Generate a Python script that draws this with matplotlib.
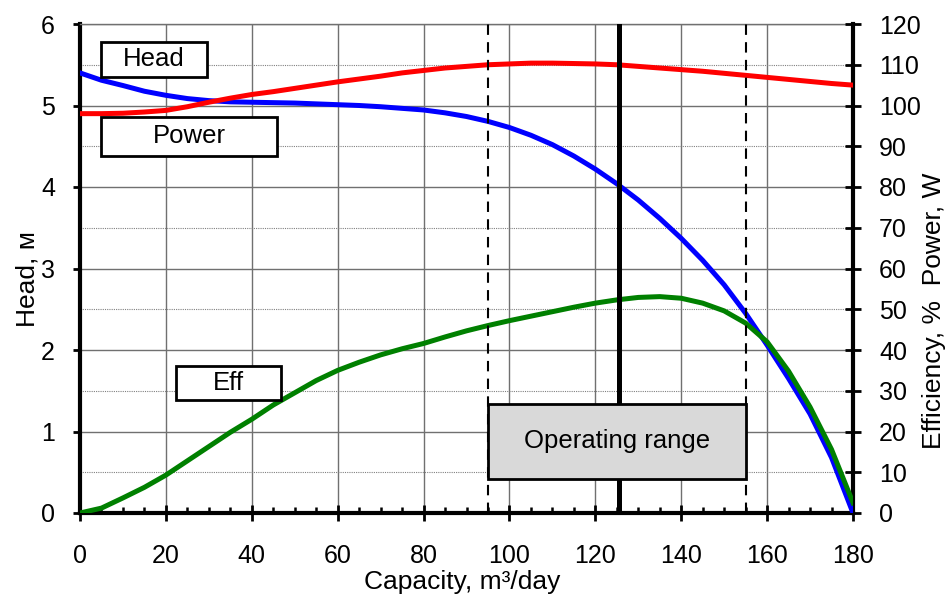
import numpy as np
import matplotlib
matplotlib.use("Agg")
import matplotlib.pyplot as plt
from matplotlib.patches import Rectangle

plt.rcParams['font.family'] = ['Liberation Sans', 'DejaVu Sans']

# capacity, m3/day (read every 5 units)
q = list(range(0, 181, 5))

# head, m (left axis)
head = [4.90, 4.90, 4.905, 4.92, 4.94, 4.985, 5.04, 5.09, 5.135, 5.17, 5.21, 5.25, 5.29,
        5.325, 5.36, 5.40, 5.43, 5.46, 5.48, 5.50, 5.51, 5.52, 5.52, 5.515, 5.51, 5.50,
        5.48, 5.46, 5.44, 5.42, 5.395, 5.37, 5.345, 5.32, 5.295, 5.27, 5.25]

# power, W (right axis)
power = [108.0, 106.2, 104.9, 103.5, 102.5, 101.7, 101.2, 100.9, 100.8, 100.7, 100.6, 100.4,
         100.2, 100.0, 99.7, 99.3, 98.9, 98.2, 97.3, 96.1, 94.6, 92.7, 90.4, 87.6, 84.4,
         80.8, 76.8, 72.3, 67.4, 62.0, 56.0, 49.0, 41.2, 33.0, 24.3, 13.6, 0.0]

# efficiency, % (right axis)
eff = [0.0, 1.2, 3.7, 6.3, 9.3, 12.8, 16.3, 19.8, 23.0, 26.5, 29.5, 32.5, 35.0, 37.0, 38.8,
       40.3, 41.6, 43.2, 44.7, 46.0, 47.2, 48.3, 49.4, 50.5, 51.5, 52.3, 52.9, 53.1, 52.7,
       51.5, 49.6, 46.6, 42.0, 34.8, 26.0, 15.6, 2.5]

range_lo, range_hi, duty = 95, 155, 125.5

labels = [("Head", 4.9, 29.6, 5.35, 5.78),
          ("Power", 4.9, 45.9, 4.38, 4.86),
          ("Eff", 22.4, 46.8, 1.39, 1.80)]

fig = plt.figure(figsize=(9.51, 5.96), dpi=100)
ax = fig.add_axes([80 / 951, 83 / 596, 773 / 951, 489 / 596])
ax2 = ax.twinx()

ax.set_xlim(0, 180)
ax.set_ylim(0, 6)
ax2.set_ylim(0, 120)

ax.set_xticks(np.arange(0, 181, 20))
ax.set_xticks(np.arange(0, 181, 5), minor=True)
ax.set_yticks(np.arange(0, 7, 1))
ax.set_yticks(np.arange(0.5, 6, 1), minor=True)
ax2.set_yticks(np.arange(0, 121, 10))

ax.grid(True, which='major', color='#707070', lw=1.0)
ax.grid(True, which='minor', axis='y', color='#808080', lw=0.8, ls=(0, (1, 1)))

ax.tick_params(axis='x', which='major', direction='inout', length=11, width=2, labelsize=18, pad=17)
ax.tick_params(axis='x', which='minor', direction='in', length=4.5, width=1.8)
ax.tick_params(axis='y', which='major', direction='out', length=5, width=2, labelsize=18, pad=13)
ax.tick_params(axis='y', which='minor', left=False)
ax2.tick_params(axis='y', direction='inout', length=11.5, width=2, labelsize=18, pad=13)

for s in ['left', 'bottom']:
    ax.spines[s].set_linewidth(3)
ax.spines['top'].set_color('#707070')
ax.spines['top'].set_linewidth(1)
ax.spines['right'].set_visible(False)
ax2.spines['right'].set_linewidth(3)
for s in ['left', 'bottom', 'top']:
    ax2.spines[s].set_visible(False)

ax.set_xlabel("Capacity, m³/day", fontsize=19)
ax.xaxis.set_label_coords(0.494, -0.116)
ax.set_ylabel("Head, м", fontsize=19)
ax.yaxis.set_label_coords(-0.052, 0.479)
ax2.set_ylabel("Efficiency, %  Power, W", fontsize=19)
ax2.yaxis.set_label_coords(1.089, 0.413)

# curves
ax2.plot(q, power, color='#0000ff', lw=3.6, zorder=3)
ax2.plot(q, eff, color='#008000', lw=3.6, zorder=4)
ax2.plot(q, head, color='#ff0000', lw=3.6, zorder=5, transform=ax.transData)

# operating range
ax2.axvline(range_lo, color='black', lw=1.5, ls=(0, (5, 3.5)), zorder=6)
ax2.axvline(range_hi, color='black', lw=1.5, ls=(0, (5, 3.5)), zorder=6)
ax2.axvline(duty, color='black', lw=3.6, zorder=6)

ax2.add_patch(Rectangle((range_lo, 0.42), range_hi - range_lo, 0.92, transform=ax.transData,
                        facecolor='#d9d9d9', edgecolor='black', lw=2, zorder=7))
ax2.text((range_lo + range_hi) / 2, 0.88, "Operating range", transform=ax.transData,
         ha='center', va='center', fontsize=18.5, zorder=8)

for txt, x0, x1, y0, y1 in labels:
    ax2.add_patch(Rectangle((x0, y0), x1 - x0, y1 - y0, transform=ax.transData,
                            facecolor='white', edgecolor='black', lw=2, zorder=7))
    ax2.text((x0 + x1) / 2, (y0 + y1) / 2, txt, transform=ax.transData,
             ha='center', va='center', fontsize=18.5, zorder=8)

fig.savefig("out.png", dpi=100)
